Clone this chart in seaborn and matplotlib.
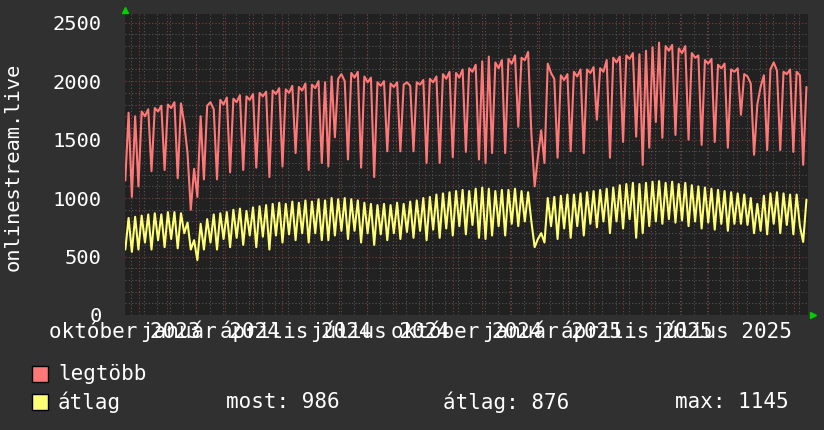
import pandas as pd
import matplotlib
matplotlib.use("Agg")
import matplotlib.pyplot as plt
from matplotlib.patches import Rectangle
import seaborn as sns

# ==========================
# Data (one value every 3.5 days)
# ==========================

start = pd.Timestamp("2023-10-17")

legtobb = [
    1150, 1730, 1010, 1700, 1100, 1740, 1700, 1760,
    1230, 1770, 1740, 1790, 1240, 1800, 1770, 1820,
    1170, 1810, 1640, 1380, 900, 1250, 1010, 1700,
    1160, 1790, 1820, 1760, 1160, 1840, 1800, 1860,
    1220, 1850, 1820, 1880, 1240, 1870, 1840, 1890,
    1260, 1900, 1870, 1910, 1180, 1920, 1890, 1940,
    1270, 1930, 1900, 1960, 1385, 1950, 1920, 1980,
    1240, 1970, 1940, 2000, 1300, 1990, 1270, 2040,
    1520, 2020, 2060, 2000, 1330, 2070, 2030, 2080,
    1260, 2040, 1990, 2030, 1180, 1990, 1960, 2000,
    1400, 1980, 1950, 1990, 1400, 1970, 1990, 1960,
    1400, 1990, 1970, 2010, 1300, 2020, 1990, 2040,
    1300, 2060, 2020, 2080, 1350, 2070, 2030, 2100,
    1395, 2110, 2080, 2140, 1330, 2170, 1300, 2210,
    1385, 2160, 2110, 2180, 1385, 2190, 2150, 2220,
    1610, 2200, 2180, 2250, 1550, 1100, 1350, 1580,
    1300, 2150, 2070, 2020, 1345, 2050, 2010, 2060,
    1400, 2080, 2040, 2100, 1385, 2100, 2070, 2120,
    1670, 2110, 2080, 2180, 1345, 2200, 2160, 2210,
    1480, 2220, 2190, 2240, 1525, 2230, 1284, 2260,
    1430, 2290, 1650, 2330, 1515, 2300, 2260, 2310,
    1540, 2280, 2240, 2300, 1500, 2240, 2200, 2220,
    1455, 2180, 2150, 2190, 1480, 2140, 2110, 2150,
    1430, 2100, 2080, 2110, 1712, 2060, 2040, 1980,
    1370, 1800, 1950, 2050, 1410, 2100, 2160, 2090,
    1410, 2080, 2060, 2100, 1395, 2080, 2050, 1284,
    1950,
]

atlag = [
    560, 830, 540, 840, 560, 850, 620, 860,
    560, 870, 640, 860, 580, 880, 650, 880,
    570, 870, 700, 790, 560, 640, 470, 780,
    560, 820, 620, 860, 560, 870, 650, 880,
    580, 900, 660, 910, 600, 890, 680, 920,
    580, 930, 670, 940, 560, 950, 680, 960,
    620, 950, 690, 970, 640, 960, 700, 980,
    620, 970, 700, 990, 640, 980, 640, 1000,
    680, 990, 720, 1000, 650, 990, 720, 980,
    620, 960, 700, 950, 600, 940, 690, 950,
    640, 940, 700, 960, 650, 950, 710, 970,
    660, 980, 720, 1000, 640, 1010, 730, 1030,
    660, 1040, 740, 1050, 680, 1060, 760, 1070,
    690, 1060, 770, 1080, 660, 1090, 650, 1080,
    680, 1060, 760, 1070, 680, 1070, 780, 1080,
    760, 1060, 800, 1050, 800, 580, 650, 700,
    620, 1000, 760, 1010, 650, 1020, 740, 1030,
    660, 1030, 760, 1040, 680, 1050, 780, 1060,
    750, 1070, 800, 1080, 700, 1090, 800, 1110,
    740, 1120, 820, 1130, 660, 1120, 700, 1130,
    760, 1140, 800, 1145, 780, 1130, 820, 1140,
    790, 1120, 810, 1130, 760, 1110, 800, 1100,
    740, 1090, 790, 1080, 730, 1070, 780, 1060,
    720, 1050, 780, 1040, 780, 1030, 770, 1000,
    700, 950, 720, 1020, 690, 1040, 780, 1050,
    700, 1040, 770, 1030, 690, 1030, 760, 625,
    986,
]

# legend numbers as printed under the chart
most_val = 986
atlag_val = 876
max_val = 1145

label_months = ["2023-10", "2024-01", "2024-04", "2024-07",
                "2024-10", "2025-01", "2025-04", "2025-07"]
label_texts = ["október 2023", "január 2024", "április 2024", "július 2024",
               "október 2024", "január 2025", "április 2025", "július 2025"]

y_ticks = [0, 500, 1000, 1500, 2000, 2500]

# ==========================
# Style
# ==========================

OUTER = "#303030"
INNER = "#212121"
RED = "#ff7878"
YELLOW = "#ffff75"
MINOR = "#555555"
MAJOR = "#8a3a3a"
MONO = "DejaVu Sans Mono"

sns.set_style("dark")
plt.rcParams["font.family"] = [MONO, "DejaVu Sans"]

df = pd.DataFrame({
    "time": pd.date_range(start, periods=len(legtobb), freq="84h"),
    "legtobb": legtobb,
    "atlag": atlag,
})

fig = plt.figure(figsize=(8.24, 4.30), dpi=100, facecolor=OUTER)
ax = fig.add_axes([125 / 824, 1 - 315 / 430, 683 / 824, 300.5 / 430])
ax.set_facecolor(INNER)

x_start = pd.Timestamp("2023-10-16 16:00")
x_end = x_start + pd.Timedelta(days=730)
ax.set_xlim(x_start, x_end)
ax.set_ylim(0, 2570)

# ==========================
# Grid
# ==========================

ax.grid(False)
for v in range(100, 2600, 100):
    col = MAJOR if v % 500 == 0 else MINOR
    ax.axhline(v, color=col, lw=0.8, ls=(0, (1, 2)), zorder=1)

biweekly = pd.date_range("2023-10-23", x_end, freq="14D")
months = pd.date_range("2023-11-01", x_end, freq="MS")
ax.vlines(biweekly, 0, 2570, colors=MINOR, lw=0.8, linestyles=(0, (1, 2)), zorder=1)
ax.vlines(months, 0, 2570, colors=MAJOR, lw=0.8, linestyles=(0, (1, 2)), zorder=1)

# ==========================
# Lines
# ==========================

sns.lineplot(data=df, x="time", y="legtobb", ax=ax, color=RED, lw=1.5,
             estimator=None, zorder=3)
sns.lineplot(data=df, x="time", y="atlag", ax=ax, color=YELLOW, lw=1.5,
             estimator=None, zorder=3)

# ==========================
# Axes text
# ==========================

ax.set_xticks([])
xt = ax.get_xaxis_transform()
for m, txt in zip(label_months, label_texts):
    ax.text(pd.Timestamp(m + "-16"), -23 / 300.5, txt, transform=xt,
            ha="center", va="baseline", fontsize=15, color="white",
            family=MONO, clip_on=False)

ax.set_yticks(y_ticks)
ax.set_yticklabels([str(v) for v in y_ticks], fontsize=14.7, color="white", family=MONO)
ax.tick_params(axis="y", length=0, pad=17)
ax.set_xlabel("")
ax.set_ylabel("")
for s in ax.spines.values():
    s.set_visible(False)

fig.text(13 / 824, 1 - 167 / 430, "onlinestream.live", rotation=90,
         ha="center", va="center", fontsize=14.7, color="white", family=MONO)

# little green arrows at the axis ends
ax.plot([0], [1.016], marker="^", ms=5, color="#00d000", transform=ax.transAxes, clip_on=False)
ax.plot([1.007], [0], marker=">", ms=5, color="#00d000", transform=ax.transAxes, clip_on=False)

# ==========================
# Legend
# ==========================

def legend_row(y_px, color, name):
    fig.add_artist(Rectangle((32 / 824, 1 - (y_px + 8) / 430), 16 / 824, 16 / 430,
                             transform=fig.transFigure, facecolor=color,
                             edgecolor="black", lw=1))
    fig.text(58 / 824, 1 - y_px / 430, name, ha="left", va="center",
             fontsize=15, color="white", family=MONO)

legend_row(374, RED, "legtöbb")
legend_row(402, YELLOW, "átlag")
fig.text(226 / 824, 1 - 402 / 430, f"most: {most_val}", ha="left", va="center",
         fontsize=15, color="white", family=MONO)
fig.text(443 / 824, 1 - 402 / 430, f"átlag: {atlag_val}", ha="left", va="center",
         fontsize=15, color="white", family=MONO)
fig.text(675 / 824, 1 - 402 / 430, f"max: {max_val}", ha="left", va="center",
         fontsize=15, color="white", family=MONO)

fig.savefig("out.png", dpi=100, facecolor=OUTER)
plt.close()
